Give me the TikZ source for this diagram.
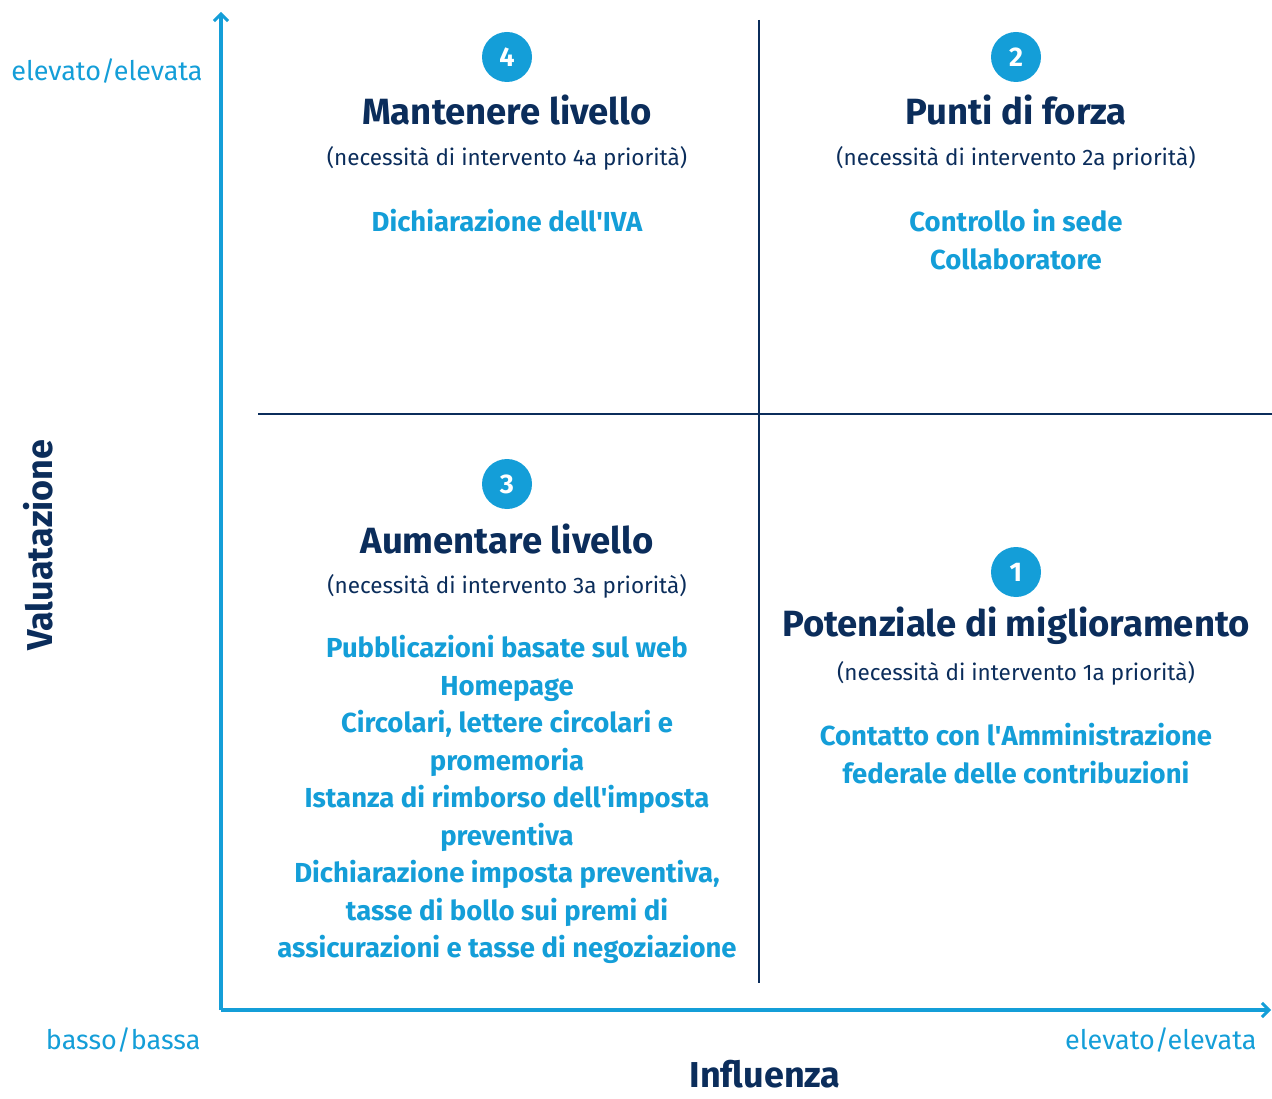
\documentclass[tikz,border=0pt]{standalone}
\usepackage{fontspec}
\setmainfont{Fira Sans}
\usetikzlibrary{arrows.meta}
\definecolor{navy}{HTML}{0B2D5B}
\definecolor{cyan}{HTML}{149ED8}
\tikzset{
  axis/.style={cyan,line width=3.5pt,-{Straight Barb[length=7pt,width=14pt,line width=3pt]}},
  divider/.style={navy,line width=1.6pt},
  badge/.style={circle,fill=cyan,text=white,minimum size=50pt,inner sep=0pt,font=\fontsize{27}{27}\selectfont\bfseries},
  title/.style={text=navy,font=\fontsize{36.5}{42}\selectfont\bfseries},
  subtitle/.style={text=navy,font=\fontsize{22.5}{26}\selectfont},
  items/.style={text=cyan,align=center,font=\fontsize{27.5}{37.5}\selectfont\bfseries},
  axislabel/.style={text=cyan,font=\fontsize{27}{30}\selectfont},
  axistitle/.style={text=navy,inner sep=1pt,font=\fontsize{36}{40}\selectfont\bfseries}
}
\begin{document}
\begin{tikzpicture}[x=1pt,y=-1pt]
		\useasboundingbox (0,0) rectangle (1272,1099);
		%axes and dividers
		\coordinate (o) at (221,1010);
		\coordinate (ytop) at (221,12);
		\coordinate (xend) at (1271,1010);
		\coordinate (vtop) at (759,20);
		\coordinate (vbot) at (759,983);
		\coordinate (hl) at (258,414);
		\coordinate (hr) at (1272,414);
		\draw[divider] (vtop) -- (vbot);
		\draw[divider] (hl) -- (hr);
		\draw[axis] (o) -- (ytop);
		\draw[axis] (o) -- (xend);
		%put the badges
		\foreach \n/\x/\y in {4/507/57,2/1016/57,3/507/484,1/1016/572}{
			\node[badge] (b\n) at (\x,\y) {\n};
		}
		%quadrant 4
		\node[title] (t4) at (507,110) {Mantenere livello};
		\node[subtitle] (s4) at (507,158) {(necessità di intervento 4a priorità)};
		\node[items,anchor=north] (i4) at (507,206) {Dichiarazione dell\textquotesingle IVA};
		%quadrant 2
		\node[title] (t2) at (1016,110) {Punti di forza};
		\node[subtitle] (s2) at (1016,158) {(necessità di intervento 2a priorità)};
		\node[items,anchor=north] (i2) at (1016,206) {Controllo in sede\\Collaboratore};
		%quadrant 3
		\node[title] (t3) at (507,539) {Aumentare livello};
		\node[subtitle] (s3) at (507,586) {(necessità di intervento 3a priorità)};
		\node[items,anchor=north] (i3) at (507,632) {Pubblicazioni basate sul web\\Homepage\\Circolari, lettere circolari e\\promemoria\\Istanza di rimborso dell\textquotesingle imposta\\preventiva\\Dichiarazione imposta preventiva,\\tasse di bollo sui premi di\\assicurazioni e tasse di negoziazione};
		%quadrant 1
		\node[title] (t1) at (1016,626) {Potenziale di miglioramento};
		\node[subtitle] (s1) at (1016,673) {(necessità di intervento 1a priorità)};
		\node[items,anchor=north] (i1) at (1016,720) {Contatto con l\textquotesingle Amministrazione\\federale delle contribuzioni};
		%axis labels
		\node[axislabel] (ytopl) at (107,71) {elevato/elevata};
		\node[axislabel,anchor=east] (xlow) at (204,1040) {basso/bassa};
		\node[axislabel,anchor=east] (xhigh) at (1260,1040) {elevato/elevata};
		\node[axistitle] (xt) at (765,1074) {Influenza};
		\node[axistitle,rotate=90] (yt) at (38,545) {Valuatazione};
\end{tikzpicture}
\end{document}
